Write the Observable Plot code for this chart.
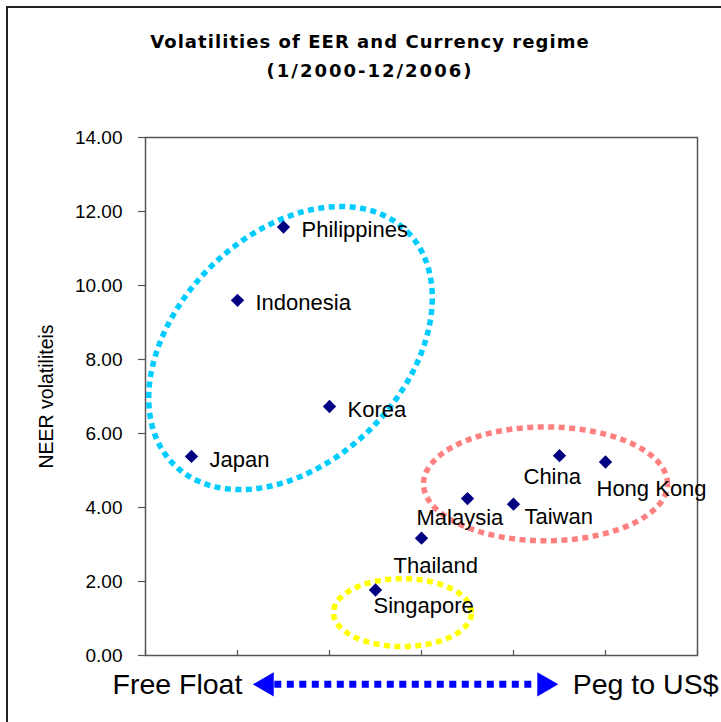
<!DOCTYPE html>
<html><head><meta charset="utf-8">
<script src="https://cdn.jsdelivr.net/npm/d3@7"></script>
<script src="https://cdn.jsdelivr.net/npm/@observablehq/plot@0.6"></script>
<style>
html,body{margin:0;padding:0;background:#fff;overflow:hidden;width:721px;height:722px}
#wrap{position:relative;width:721px;height:722px;overflow:hidden}
#border{position:absolute;left:6px;top:6px;width:800px;height:800px;border:2px solid #222}
.t{position:absolute;left:0;width:740px;text-align:center;font-family:"DejaVu Sans",sans-serif;font-weight:bold;font-size:18px;line-height:24px;color:#000;white-space:pre}
#title{letter-spacing:1.05px}
#sub{letter-spacing:2px}
#chart{position:absolute;left:0;top:0}
</style></head><body>
<div id="wrap"><div id="border"></div>
<div class="t" id="title" style="top:30px"></div>
<div class="t" id="sub" style="top:59px"></div>
<div id="chart"></div></div>
<script>
const titleText = "Volatilities of EER and Currency regime";
const subtitleText = "(1/2000-12/2006)";
const yLabel = "NEER volatiliteis";
const leftLabel = "Free Float";
const rightLabel = "Peg to US$";
const countries = ["Japan","Indonesia","Philippines","Korea","Singapore","Thailand","Malaysia","Taiwan","China","Hong Kong"];
const regime = [0.5, 1, 1.5, 2, 2.5, 3, 3.5, 4, 4.5, 5];
const neerVol = [5.38, 9.60, 11.58, 6.73, 1.77, 3.17, 4.24, 4.09, 5.40, 5.23];
const yTicks = [0, 2, 4, 6, 8, 10, 12, 14];
const xTicks = [0, 1, 2, 3, 4, 5, 6];

const rows = countries.map((name, i) => ({name, x: regime[i], y: neerVol[i]}));

document.getElementById("title").textContent = titleText;
document.getElementById("sub").textContent = subtitleText;

// group ellipses (annotations), in data units
function ellipse(cx, cy, ux, uy, vx, vy) {
  const pts = [];
  const n = 240;
  for (let k = 0; k <= n; k++) {
    const t = 2 * Math.PI * k / n;
    pts.push({x: cx + ux * Math.cos(t) + vx * Math.sin(t), y: cy + uy * Math.cos(t) + vy * Math.sin(t)});
  }
  return pts;
}
const cyanEll = ellipse(1.576, 8.31, 1.268, 3.148, 0.876, -2.174);
const pinkEll = ellipse(4.348, 4.64, 1.326, 0, 0, 1.538);
const yellowEll = ellipse(2.793, 1.16, 0.75, 0, 0, 0.917);

const ellStyle = {x: "x", y: "y", strokeWidth: 5.5, strokeDasharray: "6 4.5", strokeLinecap: "butt", strokeLinejoin: "miter"};

const lab = (name, dx, dy) => Plot.text(rows, {
  filter: d => d.name === name, x: "x", y: "y", text: "name",
  dx, dy, textAnchor: "start", lineAnchor: "middle", fontSize: 22, fill: "#000"
});

const chart = Plot.plot({
  width: 721, height: 722,
  marginLeft: 145, marginRight: 24, marginTop: 137, marginBottom: 67,
  x: {domain: [0, 6], axis: null},
  y: {domain: [0, 14], axis: null},
  style: {fontFamily: "'Liberation Sans', Arial, sans-serif", fontSize: "19px", color: "#000", background: "transparent", overflow: "visible"},
  marks: [
    Plot.frame({stroke: "#555", strokeWidth: 1.5}),
    Plot.axisY({ticks: yTicks, tickFormat: d3.format(".2f"), tickSize: 7, tickPadding: 16, stroke: "#555", strokeWidth: 1.2, fontSize: 19, label: null}),
    Plot.axisX({ticks: xTicks, tickSize: 5, dy: -5, tickFormat: () => "", stroke: "#555", strokeWidth: 1.2, label: null}),
    Plot.line(cyanEll, {...ellStyle, stroke: "#00CCFF"}),
    Plot.line(pinkEll, {...ellStyle, stroke: "#FF8080"}),
    Plot.line(yellowEll, {...ellStyle, stroke: "#FFFF00"}),
    Plot.dot(rows, {x: "x", y: "y", symbol: "diamond2", r: 6, fill: "#000080", stroke: null}),
    lab("Japan", 18, 4),
    lab("Indonesia", 18, 3),
    lab("Philippines", 18, 3),
    lab("Korea", 18, 3),
    lab("Singapore", -2, 16),
    lab("Thailand", -28, 28),
    lab("Malaysia", -51, 19),
    lab("Taiwan", 11, 13),
    lab("China", -36, 21),
    lab("Hong Kong", -9, 27),
    Plot.text([yLabel], {frameAnchor: "left", dx: -99, rotate: -90, textAnchor: "middle", lineAnchor: "middle", fontSize: 19.5, fill: "#000"}),
    Plot.line([{x: 1.40, y: -0.78}, {x: 4.25, y: -0.78}], {x: "x", y: "y", stroke: "#0000FF", strokeWidth: 7, strokeDasharray: "7 5.5", strokeLinecap: "butt"}),
    Plot.dot([{x: 1.318, y: -0.78, a: -90}, {x: 4.335, y: -0.78, a: 90}], {x: "x", y: "y", symbol: "triangle", r: 9, rotate: "a", fill: "#0000FF", stroke: null}),
    Plot.text([leftLabel], {frameAnchor: "bottom-left", dx: -33, dy: 29, textAnchor: "start", lineAnchor: "middle", fontSize: 28.5, fill: "#000"}),
    Plot.text([rightLabel], {frameAnchor: "bottom-right", dx: 21, dy: 29, textAnchor: "end", lineAnchor: "middle", fontSize: 28.5, fill: "#000"})
  ]
});
document.getElementById("chart").appendChild(chart);
</script>
</body></html>
